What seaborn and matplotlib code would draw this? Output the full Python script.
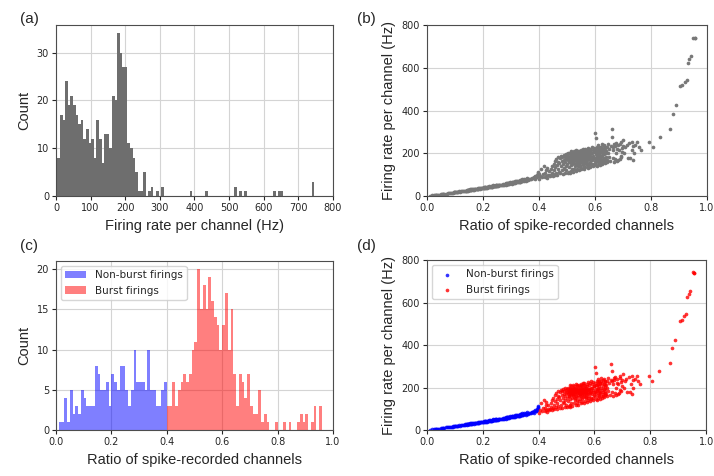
import numpy as np
import pandas as pd
import seaborn as sns
from matplotlib import pyplot as plt

# (a) firing rate histogram: 100 bins between 4 and 754 Hz
rate_range = (4, 754)
rate_counts = [
    8, 17, 16, 24, 19, 21, 19, 17, 15, 16,
    12, 14, 11, 12, 8, 16, 12, 7, 13, 13,
    10, 21, 20, 34, 30, 27, 27, 11, 10, 8,
    5, 1, 1, 5, 0, 1, 2, 0, 1, 0,
    2, 0, 0, 0, 0, 0, 0, 0, 0, 0,
    0, 1, 0, 0, 0, 0, 0, 1, 0, 0,
    0, 0, 0, 0, 0, 0, 0, 0, 2, 0,
    1, 0, 1, 0, 0, 0, 0, 0, 0, 0,
    0, 0, 0, 1, 0, 1, 1, 0, 0, 0,
    0, 0, 0, 0, 0, 0, 0, 0, 3, 0,
]

# (c) ratio histogram, bins of 0.01; non-burst 0.00-0.39, burst 0.40-0.99
nonburst_counts = [
    0, 1, 1, 4, 1, 5, 2, 3, 2, 5,
    4, 3, 3, 3, 8, 7, 5, 5, 6, 3,
    7, 6, 5, 8, 8, 5, 3, 5, 10, 6,
    6, 6, 5, 10, 5, 5, 3, 3, 5, 6,
]
burst_counts = [
    3, 3, 6, 3, 5, 6, 7, 6, 7, 10,
    11, 20, 15, 18, 15, 19, 16, 14, 13, 10,
    13, 17, 10, 15, 7, 3, 7, 6, 4, 7,
    3, 2, 2, 5, 1, 2, 1, 0, 0, 1,
    0, 0, 1, 0, 1, 0, 0, 1, 2, 1,
    2, 0, 1, 3, 0, 3, 0, 0, 0, 0,
]

# (b)/(d) channels: ratio vs firing rate
nonburst_ratio = [
    0.012, 0.018,
    0.024, 0.027,
    0.031, 0.033, 0.035, 0.038,
    0.044,
    0.051, 0.053, 0.055, 0.057, 0.059,
    0.062, 0.067,
    0.071, 0.074, 0.078,
    0.082, 0.086,
    0.091, 0.093, 0.095, 0.097, 0.099,
    0.101, 0.104, 0.106, 0.109,
    0.112, 0.115, 0.118,
    0.122, 0.125, 0.128,
    0.131, 0.135, 0.138,
    0.141, 0.142, 0.144, 0.145, 0.146, 0.147, 0.148, 0.149,
    0.151, 0.152, 0.154, 0.155, 0.157, 0.158, 0.159,
    0.161, 0.163, 0.165, 0.167, 0.169,
    0.171, 0.173, 0.175, 0.177, 0.179,
    0.181, 0.183, 0.184, 0.186, 0.188, 0.189,
    0.192, 0.195, 0.198,
    0.201, 0.202, 0.204, 0.205, 0.207, 0.208, 0.209,
    0.211, 0.213, 0.215, 0.216, 0.218, 0.219,
    0.221, 0.223, 0.225, 0.227, 0.229,
    0.231, 0.232, 0.234, 0.235, 0.236, 0.237, 0.238, 0.239,
    0.241, 0.242, 0.244, 0.245, 0.246, 0.247, 0.248, 0.249,
    0.251, 0.253, 0.255, 0.257, 0.259,
    0.262, 0.265, 0.268,
    0.271, 0.273, 0.275, 0.277, 0.279,
    0.281, 0.282, 0.283, 0.284, 0.285, 0.286, 0.287, 0.288, 0.289, 0.289,
    0.291, 0.293, 0.294, 0.296, 0.298, 0.299,
    0.301, 0.303, 0.304, 0.306, 0.308, 0.309,
    0.311, 0.313, 0.314, 0.316, 0.318, 0.319,
    0.321, 0.323, 0.325, 0.327, 0.329,
    0.331, 0.332, 0.333, 0.334, 0.335, 0.336, 0.337, 0.338, 0.339, 0.339,
    0.341, 0.343, 0.345, 0.347, 0.349,
    0.351, 0.353, 0.355, 0.357, 0.359,
    0.362, 0.365, 0.368,
    0.372, 0.375, 0.378,
    0.381, 0.383, 0.385, 0.387, 0.389,
    0.391, 0.393, 0.395, 0.396, 0.398, 0.399,
]
nonburst_rate = [
    1, 3,
    4, 3,
    5, 4, 6, 7,
    6,
    8, 7, 10, 9, 11,
    10, 12,
    12, 13, 14,
    14, 15,
    16, 15, 18, 17, 19,
    18, 20, 17, 21,
    20, 22, 21,
    22, 24, 23,
    24, 26, 25,
    26, 28, 25, 29, 27, 30, 26, 28,
    29, 27, 31, 28, 30, 32, 29,
    31, 29, 33, 30, 32,
    32, 34, 31, 35, 33,
    34, 36, 33, 37, 35, 38,
    36, 38, 37,
    38, 40, 37, 42, 39, 41, 43,
    40, 42, 39, 44, 41, 43,
    42, 45, 41, 46, 44,
    44, 47, 43, 48, 45, 50, 46, 49,
    46, 49, 45, 51, 48, 52, 47, 50,
    48, 51, 47, 53, 50,
    51, 54, 50,
    53, 56, 52, 58, 55,
    55, 58, 54, 61, 57, 60, 56, 63, 59, 62,
    58, 61, 57, 64, 60, 62,
    61, 64, 59, 66, 62, 68,
    63, 67, 62, 69, 65, 71,
    65, 70, 64, 72, 68,
    68, 72, 66, 75, 70, 77, 69, 74, 71, 79,
    71, 76, 69, 80, 74,
    74, 79, 72, 83, 77,
    77, 82, 80,
    80, 86, 83,
    84, 90, 82, 95, 88,
    88, 98, 92, 108, 115, 102,
]
burst_ratio = [
    0.401, 0.404, 0.407,
    0.412, 0.415, 0.418,
    0.421, 0.423, 0.425, 0.426, 0.428, 0.429,
    0.432, 0.435, 0.438,
    0.441, 0.443, 0.446, 0.448, 0.449,
    0.451, 0.453, 0.455, 0.456, 0.458, 0.459,
    0.461, 0.462, 0.464, 0.465, 0.467, 0.468, 0.469,
    0.471, 0.473, 0.475, 0.476, 0.478, 0.479,
    0.481, 0.482, 0.484, 0.485, 0.486, 0.488, 0.489,
    0.490, 0.491, 0.492, 0.493, 0.494, 0.495, 0.496, 0.497, 0.498, 0.499,
    0.500, 0.501, 0.502, 0.503, 0.504, 0.505, 0.506, 0.507, 0.508, 0.509, 0.509,
    0.510, 0.510, 0.511, 0.511, 0.512, 0.512, 0.513, 0.513, 0.514, 0.514,
    0.515, 0.515, 0.516, 0.516, 0.517, 0.517, 0.518, 0.518, 0.519, 0.519,
    0.520, 0.521, 0.521, 0.522, 0.523, 0.523, 0.524, 0.525, 0.526, 0.526,
    0.527, 0.528, 0.528, 0.529, 0.529,
    0.530, 0.530, 0.531, 0.532, 0.532, 0.533, 0.534, 0.534, 0.535, 0.535,
    0.536, 0.536, 0.537, 0.537, 0.538, 0.538, 0.539, 0.539,
    0.540, 0.541, 0.541, 0.542, 0.543, 0.543, 0.544, 0.545, 0.546, 0.546,
    0.547, 0.548, 0.548, 0.549, 0.549,
    0.550, 0.550, 0.551, 0.551, 0.552, 0.552, 0.553, 0.553, 0.554, 0.555,
    0.555, 0.556, 0.556, 0.557, 0.557, 0.558, 0.558, 0.559, 0.559,
    0.560, 0.561, 0.561, 0.562, 0.562, 0.563, 0.564, 0.564, 0.565, 0.566,
    0.566, 0.567, 0.568, 0.568, 0.569, 0.569,
    0.570, 0.571, 0.571, 0.572, 0.573, 0.573, 0.574, 0.575, 0.576, 0.576,
    0.577, 0.578, 0.579, 0.579,
    0.580, 0.581, 0.582, 0.582, 0.583, 0.584, 0.585, 0.586, 0.586, 0.587,
    0.588, 0.589, 0.589,
    0.590, 0.591, 0.592, 0.593, 0.594, 0.595, 0.596, 0.597, 0.598, 0.599,
    0.600, 0.601, 0.601, 0.602, 0.603, 0.604, 0.605, 0.605, 0.606, 0.607,
    0.608, 0.609, 0.609,
    0.610, 0.610, 0.611, 0.611, 0.612, 0.612, 0.613, 0.614, 0.614, 0.615,
    0.616, 0.616, 0.617, 0.617, 0.618, 0.618, 0.619,
    0.620, 0.621, 0.622, 0.623, 0.624, 0.625, 0.626, 0.627, 0.628, 0.629,
    0.630, 0.631, 0.631, 0.632, 0.633, 0.633, 0.634, 0.635, 0.636, 0.636,
    0.637, 0.638, 0.638, 0.639, 0.639,
    0.641, 0.642, 0.644, 0.645, 0.646, 0.648, 0.649,
    0.652, 0.655, 0.658,
    0.660, 0.661, 0.663, 0.664, 0.666, 0.667, 0.669,
    0.671, 0.673, 0.675, 0.676, 0.678, 0.679,
    0.682, 0.684, 0.686, 0.688,
    0.690, 0.692, 0.693, 0.695, 0.696, 0.698, 0.699,
    0.702, 0.705, 0.708,
    0.713, 0.717,
    0.722, 0.727,
    0.731, 0.733, 0.735, 0.737, 0.739,
    0.745,
    0.752, 0.757,
    0.763,
    0.795, 0.807, 0.832, 0.870, 0.878, 0.888, 0.905, 0.912,
    0.922, 0.928, 0.932, 0.937, 0.942, 0.952, 0.956, 0.958,
]
burst_rate = [
    82, 96, 128,
    88, 102, 143,
    90, 106, 120, 96, 132, 86,
    100, 116, 93,
    98, 126, 110, 142, 92,
    105, 150, 120, 97, 138, 165,
    110, 172, 101, 146, 126, 160, 185,
    115, 155, 178, 106, 140, 188,
    120, 165, 182, 102, 150, 192, 130,
    170, 125, 185, 110, 160, 198, 140, 175, 120, 190,
    180, 150, 195, 108, 170, 200, 135, 185, 160, 115, 175,
    185, 160, 200, 110, 175, 195, 145, 180, 210, 118,
    190, 165, 175, 205, 125, 185, 170, 195, 150, 180,
    175, 190, 112, 200, 165, 185, 210, 125, 180, 195,
    155, 170, 205, 140, 185,
    180, 200, 150, 190, 170, 215, 118, 185, 195, 160,
    175, 205, 128, 190, 180, 140, 210, 155,
    185, 165, 200, 120, 190, 175, 210, 135, 195, 180,
    160, 205, 145, 185, 170,
    190, 175, 205, 125, 185, 215, 160, 195, 180, 170,
    210, 132, 200, 185, 145, 190, 155, 220, 175,
    195, 160, 210, 128, 185, 200, 170, 220, 138, 190,
    180, 205, 150, 195, 175, 165,
    185, 200, 155, 215, 170, 190, 132, 205, 180, 142,
    225, 150, 195, 175,
    190, 210, 160, 195, 135, 220, 175, 200, 145, 185,
    150, 230, 180,
    200, 170, 215, 140, 190, 225, 150, 205, 180, 165,
    205, 295, 180, 220, 160, 270, 195, 145, 210, 175,
    230, 140, 190,
    210, 185, 225, 165, 200, 240, 150, 195, 215, 175,
    230, 160, 205, 190, 145, 220, 180,
    215, 175, 230, 160, 200, 245, 152, 190, 220, 170,
    205, 180, 235, 160, 215, 195, 240, 155, 225, 175,
    210, 165, 200, 185, 230,
    210, 170, 230, 158, 200, 245, 185,
    220, 165, 235,
    312, 277, 230, 180, 215, 160, 245,
    235, 175, 250, 200, 165, 220,
    240, 170, 215, 175,
    245, 190, 255, 185, 225, 205, 235,
    262, 200, 230,
    240, 180,
    250, 177,
    215, 255, 170, 235, 200,
    240,
    255, 230,
    215,
    254, 231, 277, 315, 385, 426, 515, 518,
    535, 545, 625, 640, 655, 742, 738, 740,
]

sns.set_style("whitegrid", {
    "axes.edgecolor": "0.3",
    "grid.color": "0.83",
    "xtick.bottom": True,
    "ytick.left": True,
    "xtick.color": "0.15",
    "ytick.color": "0.15",
})
plt.rcParams['font.family'] = ['DejaVu Sans']
plt.rcParams['xtick.labelsize'] = 7
plt.rcParams['ytick.labelsize'] = 7
plt.rcParams['xtick.major.size'] = 3
plt.rcParams['ytick.major.size'] = 3

label_font = {'family': 'Liberation Sans', 'size': 10.5}
gray = '#6e6e6e'

fig = plt.figure(figsize=(7.14, 4.76), dpi=100)
ax_a = fig.add_axes([0.0784, 0.588, 0.388, 0.359])
ax_b = fig.add_axes([0.598, 0.588, 0.392, 0.359])
ax_c = fig.add_axes([0.0784, 0.0966, 0.388, 0.355])
ax_d = fig.add_axes([0.598, 0.0966, 0.391, 0.357])

# (a)
rate_width = (rate_range[1] - rate_range[0]) / len(rate_counts)
rate_df = pd.DataFrame({
    "rate": rate_range[0] + rate_width * (np.arange(len(rate_counts)) + 0.5),
    "count": rate_counts,
})
sns.histplot(data=rate_df, x="rate", weights="count", binwidth=rate_width,
             binrange=rate_range, ax=ax_a, color=gray, alpha=1, linewidth=0)
ax_a.set_xlim(0, 800)
ax_a.set_xticks(range(0, 801, 100))
ax_a.set_yticks([0, 10, 20, 30])
ax_a.set_xlabel("Firing rate per channel (Hz)", fontdict=label_font)
ax_a.set_ylabel("Count", fontdict=label_font)

# (b)
all_ratio = nonburst_ratio + burst_ratio
all_rate = nonburst_rate + burst_rate
sns.scatterplot(x=all_ratio, y=all_rate, ax=ax_b, color='#787878', s=7, linewidth=0)
ax_b.set_xlim(0, 1)
ax_b.set_ylim(0, 800)
ax_b.set_xticks(np.arange(0, 1.01, 0.2))
ax_b.set_yticks(range(0, 801, 200))
ax_b.set_xlabel("Ratio of spike-recorded channels", fontdict=label_font)
ax_b.set_ylabel("Firing rate per channel (Hz)", fontdict=label_font)

# (c)
nb_df = pd.DataFrame({
    "ratio": np.arange(len(nonburst_counts)) * 0.01 + 0.005,
    "count": nonburst_counts,
})
b_df = pd.DataFrame({
    "ratio": 0.4 + np.arange(len(burst_counts)) * 0.01 + 0.005,
    "count": burst_counts,
})
sns.histplot(data=nb_df, x="ratio", weights="count", binwidth=0.01, binrange=(0, 0.4),
             ax=ax_c, color='blue', alpha=0.5, linewidth=0, label='Non-burst firings')
sns.histplot(data=b_df, x="ratio", weights="count", binwidth=0.01, binrange=(0.4, 1.0),
             ax=ax_c, color='red', alpha=0.5, linewidth=0, label='Burst firings')
ax_c.set_xlim(0, 1)
ax_c.set_xticks(np.arange(0, 1.01, 0.2))
ax_c.set_yticks([0, 5, 10, 15, 20])
ax_c.set_xlabel("Ratio of spike-recorded channels", fontdict=label_font)
ax_c.set_ylabel("Count", fontdict=label_font)
ax_c.legend(loc='upper left', fontsize=7.5, frameon=True)

# (d)
sns.scatterplot(x=nonburst_ratio, y=nonburst_rate, ax=ax_d, color='blue', s=7,
                linewidth=0, alpha=0.8, label='Non-burst firings')
sns.scatterplot(x=burst_ratio, y=burst_rate, ax=ax_d, color='red', s=7,
                linewidth=0, alpha=0.8, label='Burst firings')
ax_d.set_xlim(0, 1)
ax_d.set_ylim(0, 800)
ax_d.set_xticks(np.arange(0, 1.01, 0.2))
ax_d.set_yticks(range(0, 801, 200))
ax_d.set_xlabel("Ratio of spike-recorded channels", fontdict=label_font)
ax_d.set_ylabel("Firing rate per channel (Hz)", fontdict=label_font)
ax_d.legend(loc='upper left', fontsize=7.5, frameon=True)

for ax in (ax_a, ax_b, ax_c, ax_d):
    ax.tick_params(pad=2)

panel_font = {'family': 'Liberation Sans', 'size': 11}
fig.text(0.028, 0.975, "(a)", fontdict=panel_font, va='top')
fig.text(0.500, 0.975, "(b)", fontdict=panel_font, va='top')
fig.text(0.028, 0.498, "(c)", fontdict=panel_font, va='top')
fig.text(0.500, 0.498, "(d)", fontdict=panel_font, va='top')

fig.savefig('out.png', dpi=100)
